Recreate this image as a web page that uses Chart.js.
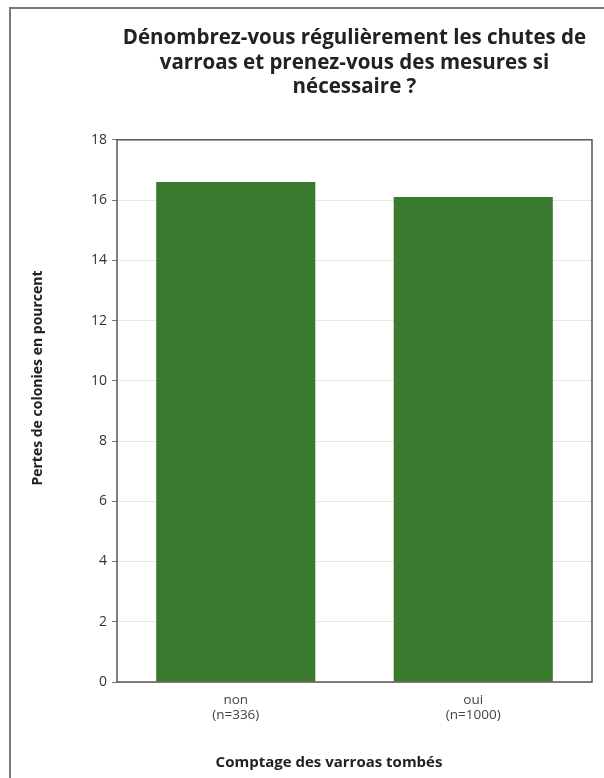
<!DOCTYPE html>
<html>
<head>
<meta charset="utf-8">
<script src="https://cdn.jsdelivr.net/npm/chart.js@4"></script>
<style>
  html, body { margin: 0; padding: 0; background: #fff; overflow: hidden; }
  canvas { display: block; }
</style>
</head>
<body>
<canvas id="c" width="604" height="778"></canvas>
<script>
// Survey answers and colony losses (%)
const categories = [["non", "(n=336)"], ["oui", "(n=1000)"]];
const losses = [16.6, 16.1];
const yTicks = [0, 2, 4, 6, 8, 10, 12, 14, 16, 18];

const titleLines = [
  "Dénombrez-vous régulièrement les chutes de",
  "varroas et prenez-vous des mesures si",
  "nécessaire ?"
];
const xTitle = "Comptage des varroas tombés";
const yTitle = "Pertes de colonies en pourcent";

const decor = {
  id: 'decor',
  beforeDraw(chart) {
    const ctx = chart.ctx;
    ctx.save();
    ctx.fillStyle = '#fff';
    ctx.fillRect(0, 0, chart.width, chart.height);
    // outer frame
    ctx.strokeStyle = '#7a7a7a';
    ctx.lineWidth = 2;
    ctx.strokeRect(10, 8, 700, 900);
    ctx.restore();
  },
  afterDraw(chart) {
    const ctx = chart.ctx;
    const a = chart.chartArea;
    ctx.save();
    // plot frame
    ctx.strokeStyle = '#555';
    ctx.lineWidth = 1.5;
    ctx.strokeRect(a.left, a.top, a.right - a.left, a.bottom - a.top);
    // axis titles
    ctx.fillStyle = '#222';
    ctx.textAlign = 'center';
    ctx.textBaseline = 'middle';
    ctx.font = 'bold 15px "Open Sans"';
    ctx.fillText(xTitle, 329, 763);
    ctx.font = 'bold 14px "Open Sans"';
    ctx.translate(38, 378);
    ctx.rotate(-Math.PI / 2);
    ctx.fillText(yTitle, 0, 0);
    ctx.restore();
  }
};

new Chart(document.getElementById('c'), {
  type: 'bar',
  data: {
    labels: categories,
    datasets: [{
      data: losses,
      backgroundColor: '#3a7a2f',
      borderWidth: 0,
      categoryPercentage: 1,
      barPercentage: 0.67
    }]
  },
  options: {
    responsive: false,
    animation: false,
    layout: { padding: { left: 77, right: 12, top: 0, bottom: 0 } },
    plugins: {
      legend: { display: false },
      tooltip: { enabled: false },
      title: {
        display: true,
        fullSize: false,
        text: titleLines,
        color: '#222',
        font: { family: '"Open Sans"', size: 20.5, weight: 'bold', lineHeight: 1.2 },
        padding: { top: 26, bottom: 40 }
      }
    },
    scales: {
      x: {
        grid: { display: false },
        border: { display: false },
        ticks: { color: '#444', font: { family: '"Open Sans"', size: 13.5, lineHeight: 1.15 }, padding: 2 },
        afterFit(s) { s.height = 96; }
      },
      y: {
        min: 0, max: 18,
        afterBuildTicks(s) { s.ticks = yTicks.map(v => ({ value: v })); },
        grid: { color: '#ece7cf', tickColor: '#777', tickLength: 5, drawTicks: true },
        border: { display: false },
        ticks: { color: '#333', font: { family: '"Open Sans"', size: 14 }, padding: 5 },
        afterFit(s) { s.width = 40; }
      }
    }
  },
  plugins: [decor]
});
</script>
</body>
</html>
